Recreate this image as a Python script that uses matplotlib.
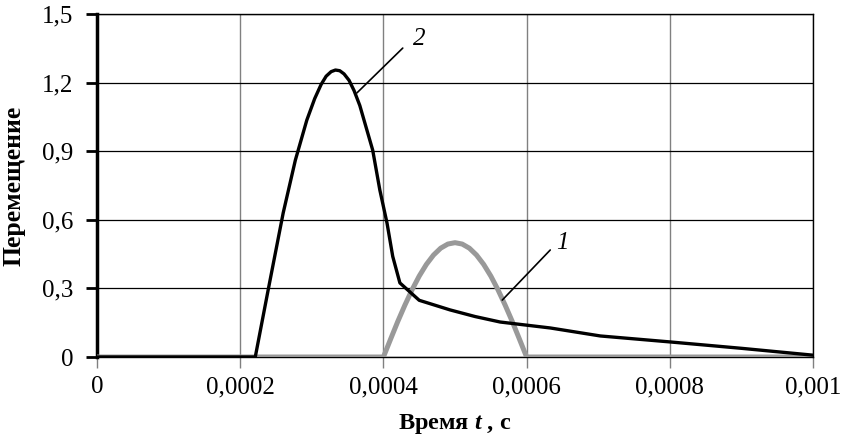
import matplotlib
matplotlib.use('Agg')
import matplotlib.pyplot as plt

plt.rcParams['font.family'] = ['Liberation Serif', 'DejaVu Serif']
plt.rcParams['mathtext.fontset'] = 'custom'
plt.rcParams['mathtext.it'] = 'Liberation Serif:italic:bold'
plt.rcParams['mathtext.rm'] = 'Liberation Serif:bold'

# кривая 1 (серая) - полуволна
t1 = [0, 0.0004, 0.00041, 0.00042, 0.00043, 0.00044, 0.00045, 0.00046, 0.00047,
      0.00048, 0.00049, 0.0005, 0.00051, 0.00052, 0.00053, 0.00054, 0.00055,
      0.00056, 0.00057, 0.00058, 0.00059, 0.0006, 0.001]
y1 = [0, 0, 0.078, 0.155, 0.227, 0.294, 0.354, 0.405, 0.446,
      0.476, 0.494, 0.5, 0.494, 0.476, 0.446, 0.405, 0.354,
      0.294, 0.227, 0.155, 0.078, 0, 0]

# кривая 2 (черная)
t2 = [0, 0.000221, 0.000239, 0.00026, 0.000277, 0.000293, 0.000304, 0.000313,
      0.00032, 0.000327, 0.000333, 0.000339, 0.000345, 0.000352, 0.000359,
      0.000367, 0.000385, 0.000395, 0.000405, 0.000413, 0.000423, 0.00045,
      0.000493, 0.000528, 0.000563, 0.000633, 0.000703, 0.0008, 0.0009, 0.001]
y2 = [0, 0, 0.293, 0.63, 0.861, 1.036, 1.13, 1.192,
      1.228, 1.248, 1.255, 1.252, 1.238, 1.21, 1.165,
      1.1, 0.905, 0.73, 0.586, 0.44, 0.324, 0.248,
      0.206, 0.177, 0.153, 0.127, 0.092, 0.066, 0.038, 0.008]

xticks = [0, 0.0002, 0.0004, 0.0006, 0.0008, 0.001]
xtick_labels = ['0', '0,0002', '0,0004', '0,0006', '0,0008', '0,001']
yticks = [0, 0.3, 0.6, 0.9, 1.2, 1.5]
ytick_labels = ['0', '0,3', '0,6', '0,9', '1,2', '1,5']

fig = plt.figure(figsize=(8.46, 4.42), dpi=100)
ax = fig.add_axes([0.1147, 0.1923, 0.8463, 0.776])

ax.plot(t1, y1, color='#999999', lw=3.6, solid_capstyle='butt', zorder=3)
ax.plot(t2, y2, color='black', lw=2.4, solid_joinstyle='round', zorder=4)

ax.set_xlim(0, 0.001)
ax.set_ylim(0, 1.5)
ax.set_xticks(xticks)
ax.set_xticklabels(xtick_labels)
ax.set_yticks(yticks)
ax.set_yticklabels(ytick_labels)

ax.xaxis.grid(True, color='#808080', lw=1.0)
ax.yaxis.grid(True, color='black', lw=0.9)
ax.set_axisbelow(True)

ax.tick_params(axis='x', direction='out', length=8, width=1, color='#808080',
               pad=6, labelsize=18)
ax.tick_params(axis='y', direction='out', length=8, width=2, color='black',
               pad=9, labelsize=18)

ax.spines['left'].set_linewidth(2.5)
for s in ['bottom', 'top', 'right']:
    ax.spines[s].set_linewidth(1.0)
    ax.spines[s].set_color('black')

ax.set_xlabel(r'Время $t$ , с', fontsize=17.5, fontweight='bold', labelpad=10)
ax.set_ylabel('Перемещение', fontsize=18.5, fontweight='bold', labelpad=12)

# выноски
ax.annotate('', xy=(0.000363, 1.155), xytext=(0.000427, 1.351),
            arrowprops=dict(arrowstyle='-', color='black', lw=1.2,
                            shrinkA=0, shrinkB=0))
ax.text(0.000441, 1.39, '2', fontsize=18, style='italic', ha='left', va='center')
ax.annotate('', xy=(0.000566, 0.249), xytext=(0.000633, 0.468),
            arrowprops=dict(arrowstyle='-', color='black', lw=1.2,
                            shrinkA=0, shrinkB=0))
ax.text(0.000641, 0.5, '1', fontsize=18, style='italic', ha='left', va='center')

fig.savefig('out.png', dpi=100)
